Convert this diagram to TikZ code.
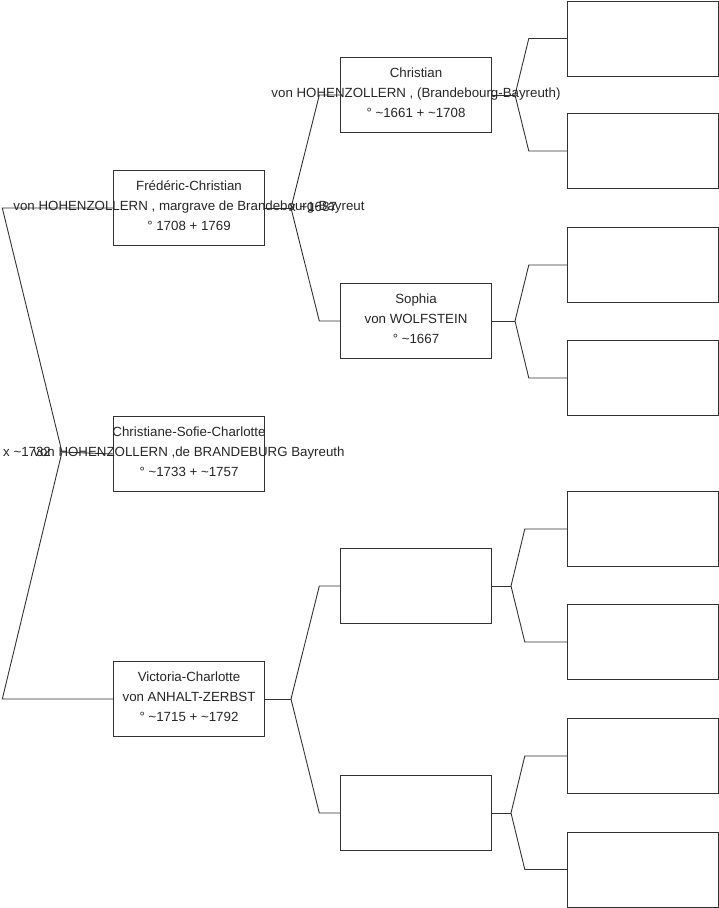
\documentclass[tikz,border=0pt]{standalone}
\usepackage{fontspec}
\setmainfont{Liberation Sans}
\usepackage{tikz}
\usetikzlibrary{positioning, calc}
\definecolor{cLine}{RGB}{50,50,50}
\tikzset{
	box/.style ={rectangle, draw=cLine, minimum width=151pt, minimum height=75pt, inner sep=0pt, fill=white},
	who/.style ={align=center, inner sep=0pt, text=black!85},
	link/.style={draw=cLine, line width=0.9pt},
	wed/.style ={inner sep=0pt, anchor=west, text=black!85},
}

\begin{document}
\begin{tikzpicture}[x=1pt, y=-1pt, every node/.style={font=\fontsize{13.3}{20}\selectfont}]
	\useasboundingbox (0,0) rectangle (719,908);
	% forks
	\coordinate (f1) at (62,452);
	\coordinate (k1) at (291,208);
	\coordinate (k2) at (291,699);
	\coordinate (m1) at (515,95);
	\coordinate (m2) at (515,321);
	\coordinate (m3) at (511,586);
	\coordinate (m4) at (511,813);
	% boxes
	\node[box] (fc)   at (189,208) {};
	\node[box] (csc)  at (189,454) {};
	\node[box] (vc)   at (189,699) {};
	\node[box] (chr)  at (416,95)  {};
	\node[box] (soph) at (416,321) {};
	\node[box] (pa)   at (416,586) {};
	\node[box] (pb)   at (416,813) {};
	\node[box] (ga)   at (642.5,38.5) {};
	\node[box] (gb)   at (642.5,151)  {};
	\node[box] (gc)   at (642.5,265)  {};
	\node[box] (gd)   at (642.5,378)  {};
	\node[box] (ge)   at (642.5,529)  {};
	\node[box] (gf)   at (642.5,642)  {};
	\node[box] (gg)   at (642.5,756)  {};
	\node[box] (gh)   at (642.5,869.5) {};
	% connectors
	\draw[link] (fc.west) -- ++(-111,0) -- (f1) -- ([xshift=-111pt]vc.west) -- (vc.west);
	\draw[link] (f1) -- (csc.west);
	\draw[link] (chr.west) -- ++(-21,0) -- (k1) -- ([xshift=-21pt]soph.west) -- (soph.west);
	\draw[link] (fc.east) -- (k1);
	\draw[link] (pa.west) -- ++(-21,0) -- (k2) -- ([xshift=-21pt]pb.west) -- (pb.west);
	\draw[link] (vc.east) -- (k2);
	\draw[link] (ga.west) -- ++(-38,0) -- (m1) -- ([xshift=-38pt]gb.west) -- (gb.west);
	\draw[link] (chr.east) -- (m1);
	\draw[link] (gc.west) -- ++(-38,0) -- (m2) -- ([xshift=-38pt]gd.west) -- (gd.west);
	\draw[link] (soph.east) -- (m2);
	\draw[link] (ge.west) -- ++(-42,0) -- (m3) -- ([xshift=-42pt]gf.west) -- (gf.west);
	\draw[link] (pa.east) -- (m3);
	\draw[link] (gg.west) -- ++(-42,0) -- (m4) -- ([xshift=-42pt]gh.west) -- (gh.west);
	\draw[link] (pb.east) -- (m4);
	% names
	\node[who] (fct)   at ([yshift=2pt]fc)   {Frédéric-Christian\\von HOHENZOLLERN , margrave de Brandebourg-Bayreut\\° 1708 + 1769};
	\node[who] (csct)  at ([yshift=2pt]csc)  {Christiane-Sofie-Charlotte\\von HOHENZOLLERN ,de BRANDEBURG Bayreuth\\° \textasciitilde1733 + \textasciitilde1757};
	\node[who] (vct)   at ([yshift=2pt]vc)   {Victoria-Charlotte\\von ANHALT-ZERBST\\° \textasciitilde1715 + \textasciitilde1792};
	\node[who] (chrt)  at ([yshift=2pt]chr)  {Christian\\von HOHENZOLLERN , (Brandebourg-Bayreuth)\\° \textasciitilde1661 + \textasciitilde1708};
	\node[who] (sopht) at ([yshift=2pt]soph) {Sophia\\von WOLFSTEIN\\° \textasciitilde1667};
	% marriages
	\node[wed] (x1) at (3,452)  {x \textasciitilde1732};
	\node[wed] (x2) at (289,207) {x \textasciitilde1687};
\end{tikzpicture}
\end{document}
